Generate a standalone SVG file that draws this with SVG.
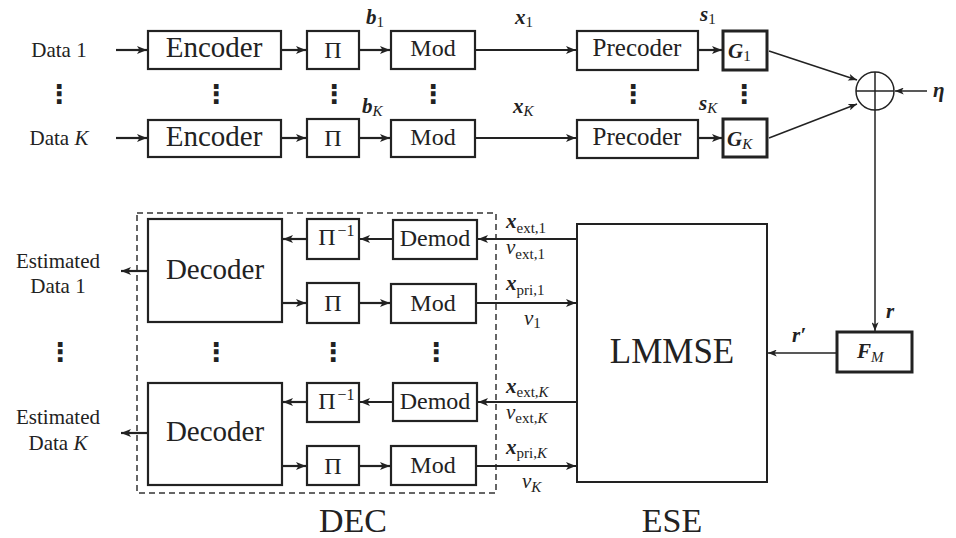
<svg xmlns="http://www.w3.org/2000/svg" width="956" height="538" viewBox="0 0 956 538">
<defs>
<style>
.box{fill:#fff;stroke:#222;stroke-width:2.2}
.tbox{fill:#fff;stroke:#222;stroke-width:3}
.lbox{fill:#fff;stroke:#222;stroke-width:2}
.c{stroke:#222;stroke-width:2.2;fill:none}
.ct{stroke:#222;stroke-width:1.5;fill:none}
.rm{text-anchor:middle}
.lab{font-size:21px;text-anchor:middle}
.m{font-weight:bold;font-style:italic;font-size:21px}
.mi{font-style:italic;font-size:21px}
.sub{font-weight:normal;font-style:normal;font-size:15px}
.subi{font-weight:normal;font-style:italic;font-size:15px}
.dots{font-weight:bold;font-size:26px;text-anchor:middle}
</style>
<marker id="ah" viewBox="0 0 10 8" refX="10" refY="4" markerWidth="10" markerHeight="8" orient="auto" markerUnits="userSpaceOnUse"><path d="M0,0 L10,4 L0,8 L2.5,4 z" fill="#222"/></marker>
<marker id="ahs" viewBox="0 0 10 8" refX="10" refY="4" markerWidth="9" markerHeight="7" orient="auto" markerUnits="userSpaceOnUse"><path d="M0,0 L10,4 L0,8 L2.5,4 z" fill="#222"/></marker>
</defs>
<rect width="956" height="538" fill="#fff"/>

<g font-family="Liberation Serif, serif" fill="#222">
<g id="inputs">
<text class="lab" x="59" y="57">Data 1</text>
<text class="lab" x="59" y="145">Data <tspan font-style="italic">K</tspan></text>
<text class="lab" x="58" y="268">Estimated</text>
<text class="lab" x="58" y="293">Data 1</text>
<text class="lab" x="58" y="424">Estimated</text>
<text class="lab" x="58" y="450">Data <tspan font-style="italic">K</tspan></text>
</g>

<g id="dots" font-family="DejaVu Sans, sans-serif">
<text class="dots" x="59" y="103">⋮</text>
<text class="dots" x="216" y="103">⋮</text>
<text class="dots" x="334" y="103">⋮</text>
<text class="dots" x="433" y="103">⋮</text>
<text class="dots" x="633" y="103">⋮</text>
<text class="dots" x="744" y="103">⋮</text>
<text class="dots" x="60" y="361">⋮</text>
<text class="dots" x="216" y="361">⋮</text>
<text class="dots" x="333" y="361">⋮</text>
<text class="dots" x="436" y="361">⋮</text>
</g>

<g id="dec">
<rect x="137" y="213" width="359" height="280" fill="none" stroke="#333" stroke-width="1.5" stroke-dasharray="6,4"/>
<text class="rm" x="353" y="532" font-size="34">DEC</text>
</g>

<g id="connectors">
<line class="c" x1="116" y1="50" x2="147" y2="50" marker-end="url(#ah)"/>
<line class="c" x1="282" y1="50" x2="306" y2="50" marker-end="url(#ah)"/>
<line class="c" x1="360" y1="50" x2="390" y2="50" marker-end="url(#ah)"/>
<line class="c" x1="476" y1="50" x2="576" y2="50" marker-end="url(#ah)"/>
<line class="c" x1="699" y1="50" x2="722" y2="50" marker-end="url(#ah)"/>
<line class="c" x1="116" y1="138" x2="147" y2="138" marker-end="url(#ah)"/>
<line class="c" x1="282" y1="138" x2="306" y2="138" marker-end="url(#ah)"/>
<line class="c" x1="360" y1="138" x2="390" y2="138" marker-end="url(#ah)"/>
<line class="c" x1="476" y1="138" x2="576" y2="138" marker-end="url(#ah)"/>
<line class="c" x1="699" y1="138" x2="722" y2="138" marker-end="url(#ah)"/>
<line class="ct" x1="769" y1="51" x2="857" y2="80" marker-end="url(#ahs)"/>
<line class="ct" x1="769" y1="138" x2="857" y2="104" marker-end="url(#ahs)"/>
<line class="ct" x1="927" y1="91" x2="895" y2="91" marker-end="url(#ahs)"/>
<line class="ct" x1="875" y1="110" x2="875" y2="331" marker-end="url(#ahs)"/>
<line class="ct" x1="837" y1="353" x2="768" y2="353" marker-end="url(#ahs)"/>
<line class="c" x1="577" y1="239" x2="478" y2="239" marker-end="url(#ah)"/>
<line class="c" x1="393" y1="239" x2="360" y2="239" marker-end="url(#ah)"/>
<line class="c" x1="307" y1="239" x2="283" y2="239" marker-end="url(#ah)"/>
<line class="c" x1="282" y1="303" x2="306" y2="303" marker-end="url(#ah)"/>
<line class="c" x1="360" y1="303" x2="390" y2="303" marker-end="url(#ah)"/>
<line class="c" x1="477" y1="303" x2="576" y2="303" marker-end="url(#ah)"/>
<line class="c" x1="148" y1="271" x2="121" y2="271" marker-end="url(#ah)"/>
<line class="c" x1="577" y1="402" x2="478" y2="402" marker-end="url(#ah)"/>
<line class="c" x1="393" y1="402" x2="360" y2="402" marker-end="url(#ah)"/>
<line class="c" x1="307" y1="402" x2="283" y2="402" marker-end="url(#ah)"/>
<line class="c" x1="282" y1="466" x2="306" y2="466" marker-end="url(#ah)"/>
<line class="c" x1="360" y1="466" x2="390" y2="466" marker-end="url(#ah)"/>
<line class="c" x1="477" y1="466" x2="576" y2="466" marker-end="url(#ah)"/>
<line class="c" x1="148" y1="433" x2="121" y2="433" marker-end="url(#ah)"/>
</g>

<g id="conn-labels">
<text class="m" x="366" y="24">b<tspan class="sub" dy="3">1</tspan></text>
<text class="m" x="362" y="113">b<tspan class="subi" dy="3">K</tspan></text>
<text class="m" x="515" y="24">x<tspan class="sub" dy="3">1</tspan></text>
<text class="m" x="513" y="113">x<tspan class="subi" dy="3">K</tspan></text>
<text class="m" x="700" y="21">s<tspan class="sub" dy="3">1</tspan></text>
<text class="m" x="699" y="110">s<tspan class="subi" dy="3">K</tspan></text>
<text class="m" x="933" y="97" font-size="25">η</text>
<text class="m" x="886" y="318" font-size="25">r</text>
<text class="m" x="792" y="342" font-size="25">r′</text>
<text class="m" x="506" y="228">x<tspan class="sub" dy="5" font-size="16">ext,1</tspan></text>
<text class="mi" x="506" y="254">v<tspan class="sub" dy="5" font-size="16">ext,1</tspan></text>
<text class="m" x="506" y="290">x<tspan class="sub" dy="5" font-size="16">pri,1</tspan></text>
<text class="mi" x="524" y="325">v<tspan class="sub" dy="3" font-size="16">1</tspan></text>
<text class="m" x="506" y="393">x<tspan class="sub" dy="4" font-size="16">ext,</tspan><tspan class="subi" font-size="16">K</tspan></text>
<text class="mi" x="506" y="419">v<tspan class="sub" dy="4" font-size="16">ext,</tspan><tspan class="subi" font-size="16">K</tspan></text>
<text class="m" x="506" y="454">x<tspan class="sub" dy="4" font-size="16">pri,</tspan><tspan class="subi" font-size="16">K</tspan></text>
<text class="mi" x="522" y="488">v<tspan class="subi" dy="4" font-size="16">K</tspan></text>
</g>

<g id="enc1"><rect class="box" x="148" y="31" width="133" height="38"/><text class="rm" x="214" y="57" font-size="29">Encoder</text></g>
<g id="encK"><rect class="box" x="148" y="120" width="133" height="37"/><text class="rm" x="214" y="146" font-size="29">Encoder</text></g>
<g id="pi1"><rect class="box" x="307" y="31" width="52" height="38"/><text class="rm" x="333" y="58" font-size="24">Π</text></g>
<g id="piK"><rect class="box" x="307" y="119" width="52" height="38"/><text class="rm" x="333" y="146" font-size="24">Π</text></g>
<g id="mod1"><rect class="box" x="391" y="31" width="84" height="38"/><text class="rm" x="433" y="56" font-size="24">Mod</text></g>
<g id="modK"><rect class="box" x="391" y="120" width="84" height="37"/><text class="rm" x="433" y="145" font-size="24">Mod</text></g>
<g id="prec1"><rect class="box" x="577" y="31" width="121" height="39"/><text class="rm" x="637" y="56" font-size="25">Precoder</text></g>
<g id="precK"><rect class="box" x="577" y="120" width="121" height="38"/><text class="rm" x="637" y="145" font-size="25">Precoder</text></g>
<g id="g1"><rect class="tbox" x="723" y="31" width="44" height="39"/><text class="m" x="728" y="58" font-size="23">G<tspan class="sub" font-size="17" dy="3">1</tspan></text></g>
<g id="gK"><rect class="tbox" x="723" y="119" width="44" height="38"/><text class="m" x="727" y="146" font-size="23">G<tspan class="subi" font-size="17" dy="3">K</tspan></text></g>
<g id="adder"><circle cx="875" cy="91" r="19" fill="#fff" stroke="#222" stroke-width="1.5"/><line class="ct" x1="856" y1="91" x2="894" y2="91"/><line class="ct" x1="875" y1="72" x2="875" y2="110"/></g>
<g id="fm"><rect class="tbox" x="837" y="332" width="75" height="40"/><text class="m" x="857" y="358" font-size="23">F<tspan class="subi" font-size="17" dy="4">M</tspan></text></g>
<g id="lmmse"><rect class="lbox" x="577" y="224" width="190" height="258"/><text class="rm" x="672" y="363" font-size="35">LMMSE</text><text class="rm" x="672" y="532" font-size="34">ESE</text></g>

<g id="dec1"><rect class="box" x="148" y="219" width="134" height="103"/><text class="rm" x="215" y="279" font-size="29">Decoder</text></g>
<g id="deint1"><rect class="box" x="307" y="219" width="52" height="40"/><text class="rm" x="327" y="245" font-size="24">Π</text><text class="rm" x="346" y="236" font-size="16">−1</text></g>
<g id="demod1"><rect class="box" x="393" y="220" width="84" height="39"/><text class="rm" x="435" y="246" font-size="24">Demod</text></g>
<g id="pi1b"><rect class="box" x="307" y="283" width="52" height="40"/><text class="rm" x="333" y="311" font-size="24">Π</text></g>
<g id="mod1b"><rect class="box" x="391" y="284" width="85" height="39"/><text class="rm" x="433" y="311" font-size="24">Mod</text></g>

<g id="decK"><rect class="box" x="148" y="383" width="134" height="102"/><text class="rm" x="215" y="441" font-size="29">Decoder</text></g>
<g id="deintK"><rect class="box" x="307" y="383" width="52" height="39"/><text class="rm" x="327" y="409" font-size="24">Π</text><text class="rm" x="346" y="400" font-size="16">−1</text></g>
<g id="demodK"><rect class="box" x="393" y="383" width="84" height="38"/><text class="rm" x="435" y="409" font-size="24">Demod</text></g>
<g id="piKb"><rect class="box" x="307" y="446" width="52" height="39"/><text class="rm" x="333" y="474" font-size="24">Π</text></g>
<g id="modKb"><rect class="box" x="391" y="446" width="85" height="39"/><text class="rm" x="433" y="473" font-size="24">Mod</text></g>
</g>
</svg>
